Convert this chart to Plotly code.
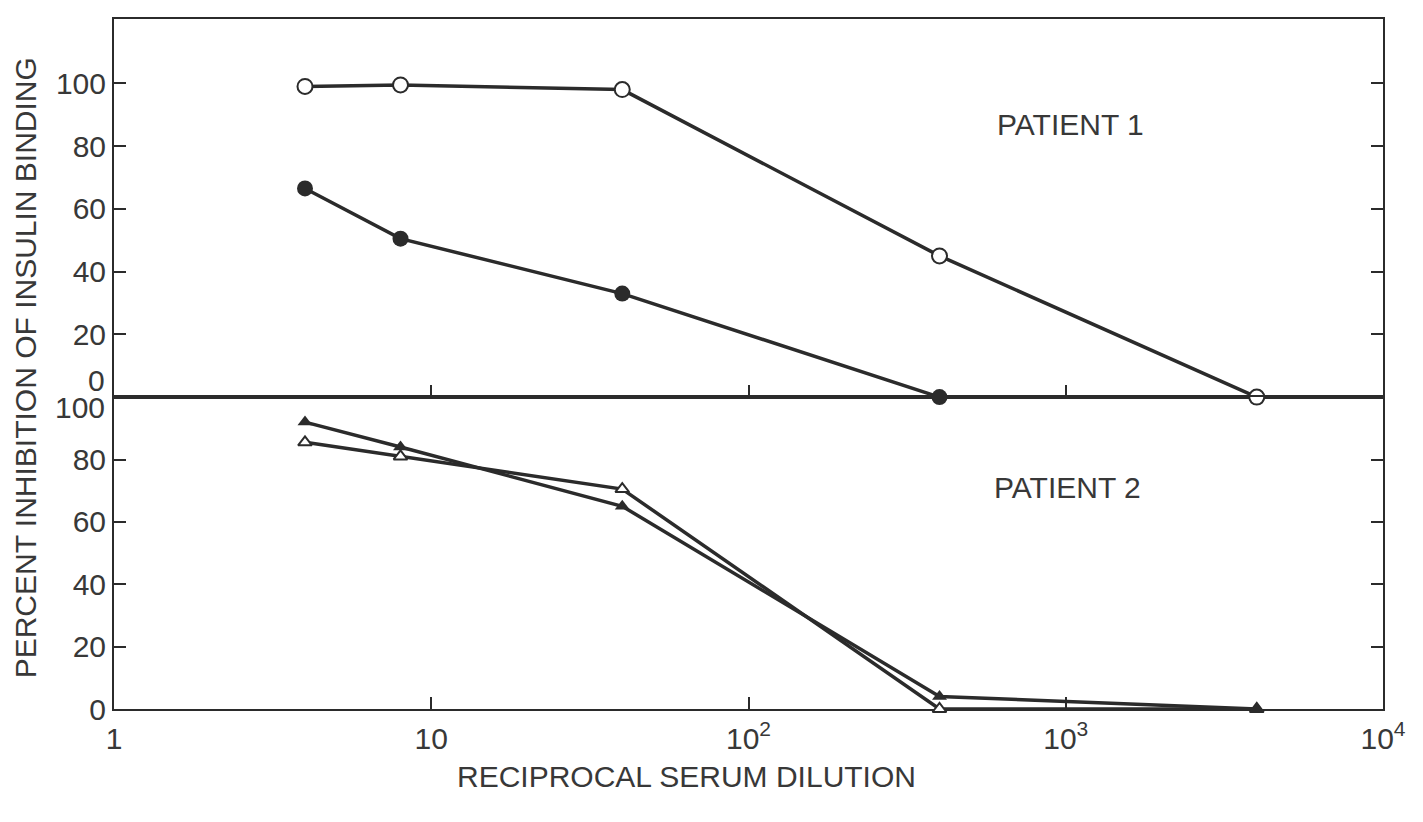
import plotly.graph_objects as go
from plotly.subplots import make_subplots

# ---- data ----
dilution = [4, 8, 40, 400, 4000]
p1_open = [99, 99.5, 98, 45, 0]          # Patient 1, open circles
p1_filled = [66.5, 50.5, 33, 0, 0]       # Patient 1, filled circles
p2_filled = [92, 84, 65, 4, 0]           # Patient 2, filled triangles
p2_open = [85.5, 81, 70.5, 0, 0]         # Patient 2, open triangles

x_tickvals = [1, 10, 100, 1000, 10000]
x_ticktext = ["1", "10", "10<sup>2</sup>", "10<sup>3</sup>", "10<sup>4</sup>"]
y_top_ticks = [20, 40, 60, 80, 100]
y_bot_ticks = [0, 20, 40, 60, 80]

INK = "#2b2b2b"
TXT = "#383838"
FONT = "Liberation Sans, Arial, Helvetica, sans-serif"

fig = make_subplots(rows=2, cols=1, shared_xaxes=False, vertical_spacing=0,
                    row_heights=[0.548, 0.452])

line = dict(color=INK, width=3.5)

fig.add_trace(go.Scatter(x=dilution, y=p1_filled, mode="lines+markers", line=line,
                         marker=dict(symbol="circle", size=16, color=INK),
                         cliponaxis=False, showlegend=False), row=1, col=1)
fig.add_trace(go.Scatter(x=dilution, y=p1_open, mode="lines+markers", line=line,
                         marker=dict(symbol="circle", size=15, color="white",
                                     line=dict(color=INK, width=2)),
                         cliponaxis=False, showlegend=False), row=1, col=1)
fig.add_trace(go.Scatter(x=dilution, y=p2_open, mode="lines+markers", line=line,
                         marker=dict(symbol="triangle-up", size=12, color="white",
                                     line=dict(color=INK, width=2)),
                         cliponaxis=False, showlegend=False), row=2, col=1)
fig.add_trace(go.Scatter(x=dilution, y=p2_filled, mode="lines+markers", line=line,
                         marker=dict(symbol="triangle-up", size=13, color=INK),
                         cliponaxis=False, showlegend=False), row=2, col=1)

axis_common = dict(showline=True, linecolor=INK, linewidth=2, showgrid=False,
                   zeroline=False, ticks="inside", ticklen=12, tickwidth=2,
                   tickcolor=INK, layer="below traces",
                   tickfont=dict(family=FONT, size=30, color=TXT))

fig.update_xaxes(type="log", range=[0, 4], mirror=True, tickvals=x_tickvals[1:4],
                 showticklabels=False, row=1, col=1, **axis_common)
fig.update_xaxes(type="log", range=[0, 4], mirror=True, tickvals=x_tickvals,
                 ticktext=x_ticktext, ticklabelstandoff=2, row=2, col=1, **axis_common)
fig.update_yaxes(range=[0, 120.5], mirror="ticks", tickvals=y_top_ticks,
                 row=1, col=1, **axis_common)
fig.update_yaxes(range=[0, 100], mirror="ticks", tickvals=y_bot_ticks,
                 row=2, col=1, **axis_common)

annos = [
    # junction tick labels, split apart as in the original
    dict(text="0", xref="paper", yref="y", x=0, y=0, xanchor="right", yanchor="middle",
         xshift=-7, yshift=17, showarrow=False, font=dict(family=FONT, size=30, color=TXT)),
    dict(text="100", xref="paper", yref="y2", x=0, y=100, xanchor="right", yanchor="middle",
         xshift=-7, yshift=-10, showarrow=False, font=dict(family=FONT, size=30, color=TXT)),
    dict(text="PATIENT 1", xref="paper", yref="y", x=0.694, y=87, xanchor="left",
         yanchor="middle", showarrow=False, font=dict(family=FONT, size=30, color=TXT)),
    dict(text="PATIENT 2", xref="paper", yref="y2", x=0.692, y=71, xanchor="left",
         yanchor="middle", showarrow=False, font=dict(family=FONT, size=30, color=TXT)),
    dict(text="PERCENT INHIBITION OF INSULIN BINDING", xref="paper", yref="paper",
         x=-0.07, y=0.494, textangle=-90, xanchor="center", yanchor="middle",
         showarrow=False, font=dict(family=FONT, size=30, color=TXT)),
    dict(text="RECIPROCAL SERUM DILUTION", xref="paper", yref="paper",
         x=0.451, y=-0.098, xanchor="center", yanchor="middle",
         showarrow=False, font=dict(family=FONT, size=30, color=TXT)),
]

fig.update_layout(width=1407, height=806, autosize=False,
                  margin=dict(l=106, r=27, t=9, b=105),
                  paper_bgcolor="white", plot_bgcolor="white",
                  annotations=annos, showlegend=False)

fig.write_html("out.html")
